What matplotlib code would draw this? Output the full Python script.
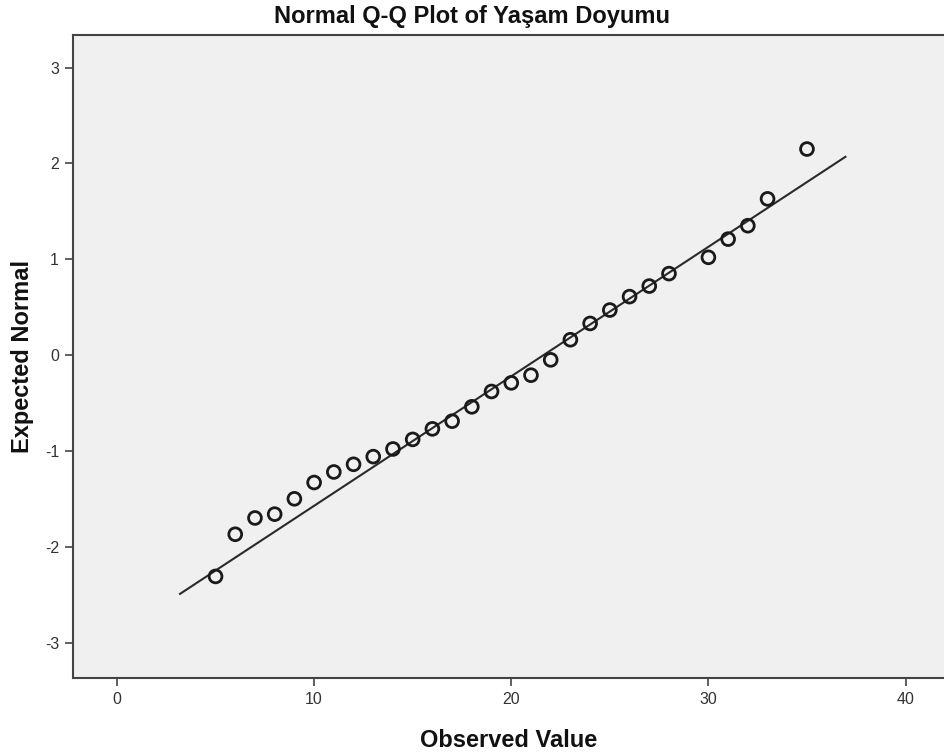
import matplotlib.pyplot as plt

plt.rcParams['font.family'] = ['Liberation Sans', 'DejaVu Sans']
plt.rcParams['axes.unicode_minus'] = False

# observed values and their expected normal scores
observed = [5, 6, 7, 8, 9, 10, 11, 12, 13, 14, 15, 16, 17, 18, 19, 20, 21,
            22, 23, 24, 25, 26, 27, 28, 30, 31, 32, 33, 35]
expected = [-2.31, -1.87, -1.70, -1.66, -1.50, -1.33, -1.22, -1.14, -1.06,
            -0.98, -0.88, -0.77, -0.69, -0.54, -0.38, -0.29, -0.21, -0.05,
            0.16, 0.33, 0.47, 0.61, 0.72, 0.85, 1.02, 1.21, 1.35, 1.63, 2.15]

# reference line: y = (x - mean) / sd
line_mean = 21.64
line_sd = 7.4
line_x = [3.2, 36.95]
line_y = [(v - line_mean) / line_sd for v in line_x]

x_ticks = [0, 10, 20, 30, 40]
y_ticks = [-3, -2, -1, 0, 1, 2, 3]

fig = plt.figure(figsize=(9.44, 7.52), dpi=100)
ax = fig.add_axes([73 / 944, 74 / 752, 1 - 73 / 944, (678 - 35) / 752])
ax.set_facecolor('#f0f0f0')

ax.plot(line_x, line_y, color='#2a2a2a', linewidth=1.5, zorder=2)
ax.scatter(observed, expected, s=85, facecolors='none', edgecolors='#1a1a1a',
           linewidths=2.0, zorder=3)

ax.set_xlim(-2.23, 41.95)
ax.set_ylim(-3.37, 3.34)
ax.set_xticks(x_ticks)
ax.set_yticks(y_ticks)

for side in ['left', 'bottom', 'top']:
    ax.spines[side].set_color('#444444')
    ax.spines[side].set_linewidth(1.5)
ax.spines['right'].set_visible(False)
ax.tick_params(direction='out', length=6, width=1.2, color='#444444',
               labelcolor='#333333', labelsize=11.5, pad=4)

fig.text(0.5, 1 - 16 / 752, 'Normal Q-Q Plot of Yaşam Doyumu', fontsize=17,
         fontweight='bold', color='#111111', ha='center', va='center')
ax.set_xlabel('Observed Value', fontsize=17, fontweight='bold',
              color='#111111', labelpad=16)
ax.set_ylabel('Expected Normal', fontsize=17, fontweight='bold',
              color='#111111', labelpad=8)

fig.savefig('out.png', dpi=100)
